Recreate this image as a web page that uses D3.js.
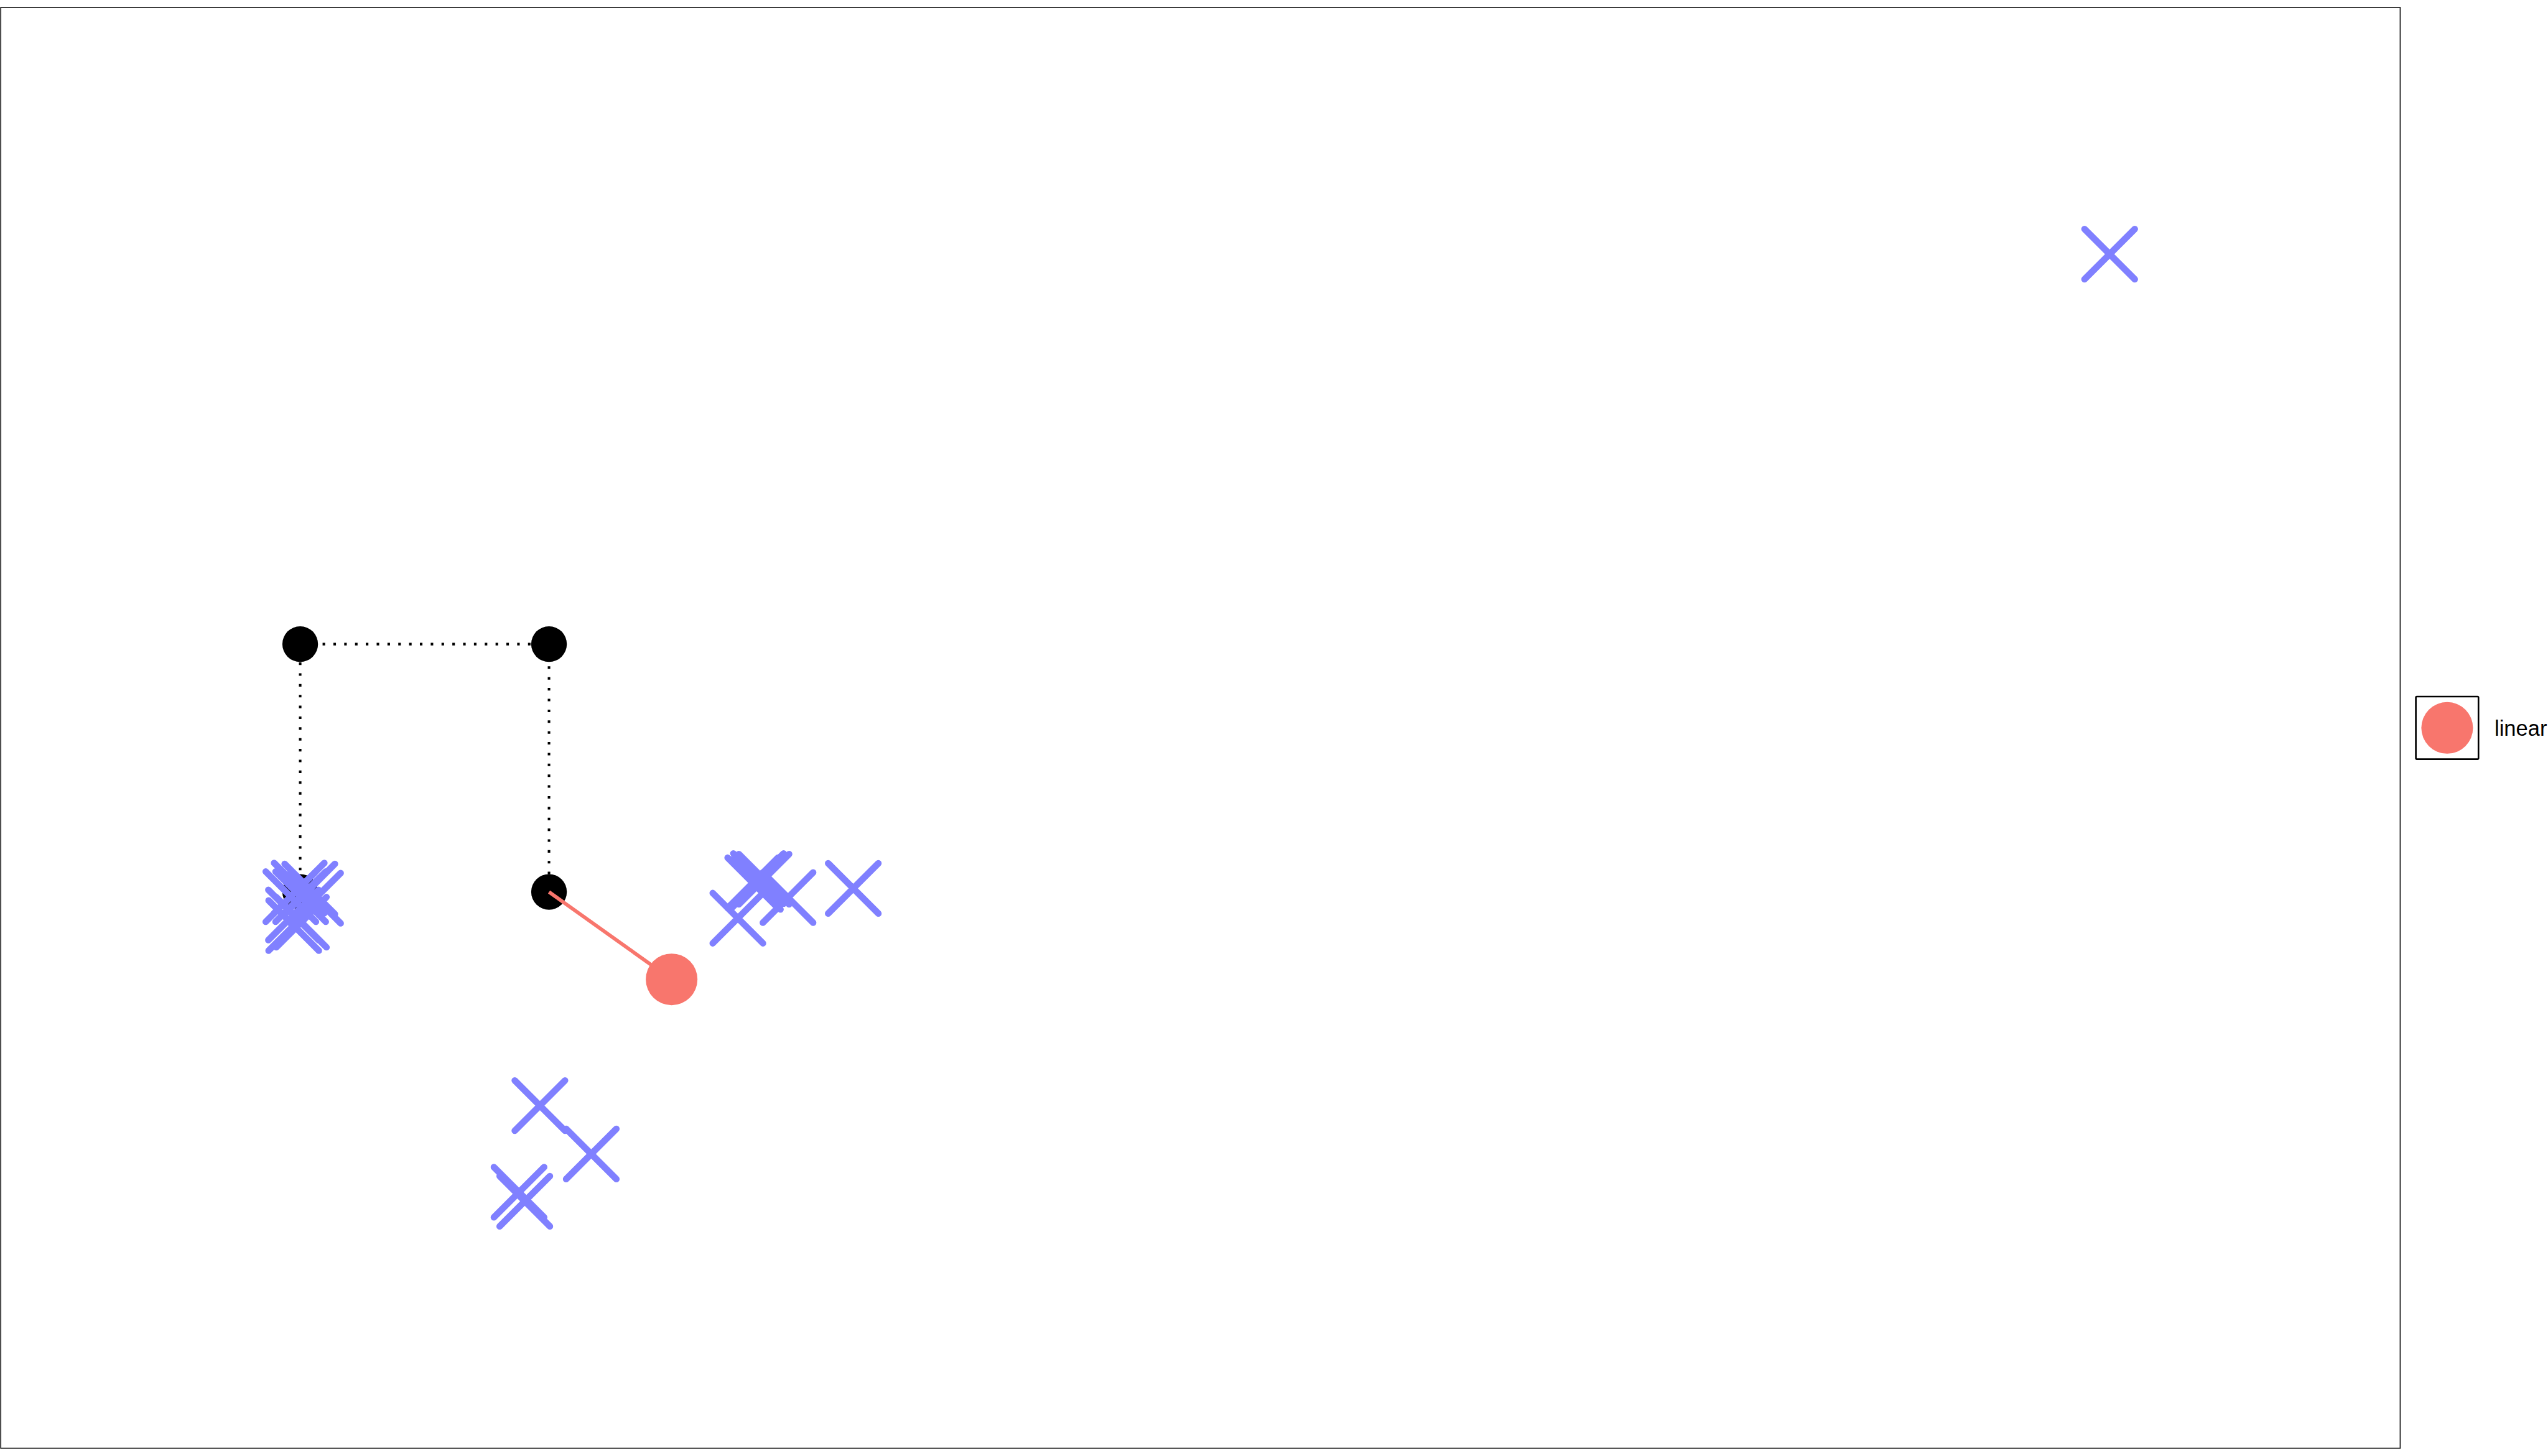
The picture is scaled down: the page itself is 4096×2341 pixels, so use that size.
<!DOCTYPE html>
<html>
<head>
<meta charset="utf-8">
<script src="https://cdn.jsdelivr.net/npm/d3@7"></script>
<style>
  html, body { margin: 0; padding: 0; background: #ffffff; overflow: hidden; }
  svg { display: block; }
</style>
</head>
<body>
<svg id="chart" width="4096" height="2341"></svg>
<script>
// ---------------- data ----------------
// search path (black points joined by a dotted line)
const pathX = [1.248, 1.248, 2.285, 2.285];
const pathY = [3.86, 5.58, 5.58, 3.86];

// "linear" result point (red), linked to the last path point
const linearX = [2.796];
const linearY = [3.253];

// sampled points (blue crosses)
const sampleX = [1.244, 1.288, 1.209, 1.312, 1.250, 1.220, 1.221, 1.253,
                 3.134, 3.158, 3.181, 3.145, 3.281, 3.553, 3.072,
                 2.247, 2.461, 2.160, 2.184,
                 8.789];
const sampleY = [3.887, 3.880, 3.827, 3.817, 3.827, 3.700, 3.627, 3.650,
                 3.923, 3.953, 3.948, 3.913, 3.821, 3.885, 3.678,
                 2.377, 2.041, 1.776, 1.713,
                 8.287];

const legendLabels = ["linear"];

// ---------------- layout ----------------
const S = 4096 / 7000;
const W = 4096, H = 2341;
const panel = { left: 2 * S, top: 20.5 * S, right: 6594 * S, bottom: 3979.5 * S };

const x = d3.scaleLinear().domain([0, 10]).range([panel.left, panel.right]);
const y = d3.scaleLinear().domain([0, 10]).range([3979 * S, 20 * S]);

const svg = d3.select("#chart");
svg.append("rect").attr("width", W).attr("height", H).attr("fill", "#ffffff");

const blue = "#8080FF";
const red = "#F8766D";

const g = svg.append("g");

// dotted path
const pathData = pathX.map((v, i) => [v, pathY[i]]);
g.append("path")
  .datum(pathData)
  .attr("d", d3.line().x(d => x(d[0])).y(d => y(d[1])))
  .attr("fill", "none")
  .attr("stroke", "#000")
  .attr("stroke-width", 7 * S)
  .attr("stroke-dasharray", `${7 * S},${22.7 * S}`)
  .attr("stroke-linecap", "butt");

// black path points
g.selectAll("circle.pt")
  .data(pathData)
  .join("circle")
  .attr("class", "pt")
  .attr("cx", d => x(d[0]))
  .attr("cy", d => y(d[1]))
  .attr("r", 49 * S)
  .attr("fill", "#000");

// red link
const last = pathData[pathData.length - 1];
g.append("line")
  .attr("x1", x(last[0])).attr("y1", y(last[1]))
  .attr("x2", x(linearX[0])).attr("y2", y(linearY[0]))
  .attr("stroke", red)
  .attr("stroke-width", 10 * S);

// red point
g.selectAll("circle.lin")
  .data(linearX.map((v, i) => [v, linearY[i]]))
  .join("circle")
  .attr("class", "lin")
  .attr("cx", d => x(d[0]))
  .attr("cy", d => y(d[1]))
  .attr("r", 71 * S)
  .attr("fill", red);

// blue crosses
const half = 69 * S;
const crossPath = d3.path();
crossPath.moveTo(-half, -half); crossPath.lineTo(half, half);
crossPath.moveTo(-half, half); crossPath.lineTo(half, -half);
g.selectAll("path.cross")
  .data(sampleX.map((v, i) => [v, sampleY[i]]))
  .join("path")
  .attr("class", "cross")
  .attr("transform", d => `translate(${x(d[0])},${y(d[1])})`)
  .attr("d", crossPath.toString())
  .attr("fill", "none")
  .attr("stroke", blue)
  .attr("stroke-width", 18 * S)
  .attr("stroke-linecap", "round");

// panel border
svg.append("rect")
  .attr("x", panel.left).attr("y", panel.top)
  .attr("width", panel.right - panel.left)
  .attr("height", panel.bottom - panel.top)
  .attr("fill", "none")
  .attr("stroke", "#222")
  .attr("stroke-width", 3 * S);

// legend
const lg = svg.append("g");
const keyX = 6637 * S, keyY = 1914 * S, keySize = 172 * S;
lg.selectAll("g.key")
  .data(legendLabels)
  .join("g")
  .attr("class", "key")
  .each(function(d) {
    const k = d3.select(this);
    k.append("rect")
      .attr("x", keyX).attr("y", keyY)
      .attr("width", keySize).attr("height", keySize)
      .attr("rx", 1.5)
      .attr("fill", "#fff")
      .attr("stroke", "#000")
      .attr("stroke-width", 4.5 * S);
    k.append("circle")
      .attr("cx", keyX + keySize / 2).attr("cy", keyY + keySize / 2)
      .attr("r", 71 * S)
      .attr("fill", red);
    k.append("text")
      .attr("x", 6853 * S)
      .attr("y", 2022 * S)
      .attr("font-family", "'Liberation Sans', Arial, Helvetica, sans-serif")
      .attr("font-size", 59 * S)
      .attr("fill", "#000")
      .text(d);
  });
</script>
</body>
</html>
